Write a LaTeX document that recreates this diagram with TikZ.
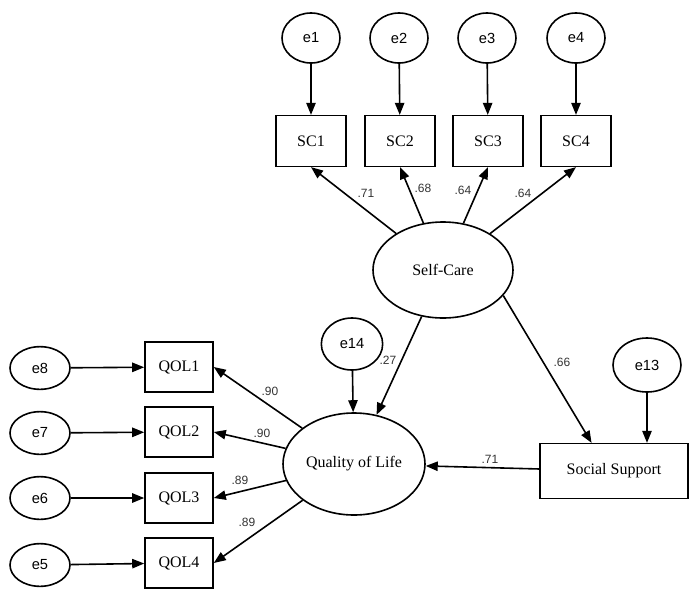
\documentclass[tikz,border=0pt]{standalone}
\usepackage{fontspec}
\setmainfont{Liberation Serif}
\newfontfamily\lsans{Liberation Sans}
\usetikzlibrary{shapes.geometric,arrows.meta,calc}
\begin{document}
\begin{tikzpicture}[x=0.75pt,y=-0.75pt,
  every node/.style={inner sep=0pt, line width=1.2pt},
  errv/.style={draw, ellipse, minimum width=43.5pt, minimum height=37.5pt, font=\lsans\fontsize{11}{13}\selectfont},
  errh/.style={draw, ellipse, minimum width=45pt, minimum height=32pt, font=\lsans\fontsize{11}{13}\selectfont},
  obs/.style={draw, rectangle, minimum width=52.5pt, minimum height=38pt, font=\fontsize{12}{14}\selectfont},
  qbox/.style={draw, rectangle, minimum width=51pt, minimum height=37.5pt, font=\fontsize{12}{14}\selectfont},
  lat/.style={draw, ellipse, font=\fontsize{12}{14}\selectfont},
  coef/.style={font=\lsans\fontsize{9}{10}\selectfont, text=black!80},
  arr/.style={-{Triangle[length=9pt,width=7pt]}, line width=1.2pt}
]
\useasboundingbox (0,0) rectangle (690,590);
% top error terms
\node[errv] (e1) at (311,38) {e1};
\node[errv] (e2) at (399,38) {e2};
\node[errv] (e3) at (487,38) {e3};
\node[errv] (e4) at (576,38) {e4};
% self-care indicators
\node[obs] (sc1) at (311,141) {SC1};
\node[obs] (sc2) at (400,141) {SC2};
\node[obs] (sc3) at (488,141) {SC3};
\node[obs] (sc4) at (576,141) {SC4};
% latent
\node[lat, minimum width=105pt, minimum height=72pt] (sc) at (443,270) {Self-Care};
\node[lat, minimum width=106.5pt, minimum height=76.5pt] (qol) at (354,464) {Quality of Life};
\node[draw, rectangle, minimum width=111pt, minimum height=41pt, font=\fontsize{12}{14}\selectfont] (ss) at (614,471) {Social Support};
% left errors
\node[errh] (e8) at (40,368) {e8};
\node[errh] (e7) at (40,433) {e7};
\node[errh] (e6) at (40,498) {e6};
\node[errh] (e5) at (40,565) {e5};
% QOL indicators
\node[qbox] (q1) at (179,367) {QOL1};
\node[qbox] (q2) at (179,432) {QOL2};
\node[qbox] (q3) at (179,498) {QOL3};
\node[qbox] (q4) at (179,563) {QOL4};
% disturbances
\node[draw, ellipse, minimum width=46pt, minimum height=39pt, font=\lsans\fontsize{11}{13}\selectfont] (e14) at (352,344) {e14};
\node[draw, ellipse, minimum width=51pt, minimum height=40.5pt, font=\lsans\fontsize{11}{13}\selectfont] (e13) at (647,365) {e13};
\coordinate (sstop) at ($(ss.north west)!0.35!(ss.north east)$);
% arrows
\foreach \a/\b in {e1/sc1,e2/sc2,e3/sc3,e4/sc4,e8/q1,e7/q2,e6/q3,e5/q4,e14/qol}
  \draw[arr] (\a) -- (\b);
\draw[arr] (e13) -- (e13 |- ss.north);
\foreach \b in {sc1,sc2,sc3,sc4}
  \draw[arr] (sc) -- (\b.south);
\foreach \b in {q1,q2,q3,q4}
  \draw[arr] (qol) -- (\b.east);
\draw[arr] (sc) -- (qol);
\draw[arr] (sc.-23) -- (sstop);
\draw[arr] (ss) -- (qol);
% coefficients
\node[coef] (c1) at (366,193) {.71};
\node[coef] (c2) at (423,188) {.68};
\node[coef] (c3) at (463,190) {.64};
\node[coef] (c4) at (523,193) {.64};
\node[coef] (c5) at (388,360) {.27};
\node[coef] (c6) at (562,362) {.66};
\node[coef] (c7) at (490,459) {.71};
\node[coef] (c8) at (270,391) {.90};
\node[coef] (c9) at (262,433) {.90};
\node[coef] (c10) at (240,480) {.89};
\node[coef] (c11) at (247,522) {.89};
\end{tikzpicture}
\end{document}
